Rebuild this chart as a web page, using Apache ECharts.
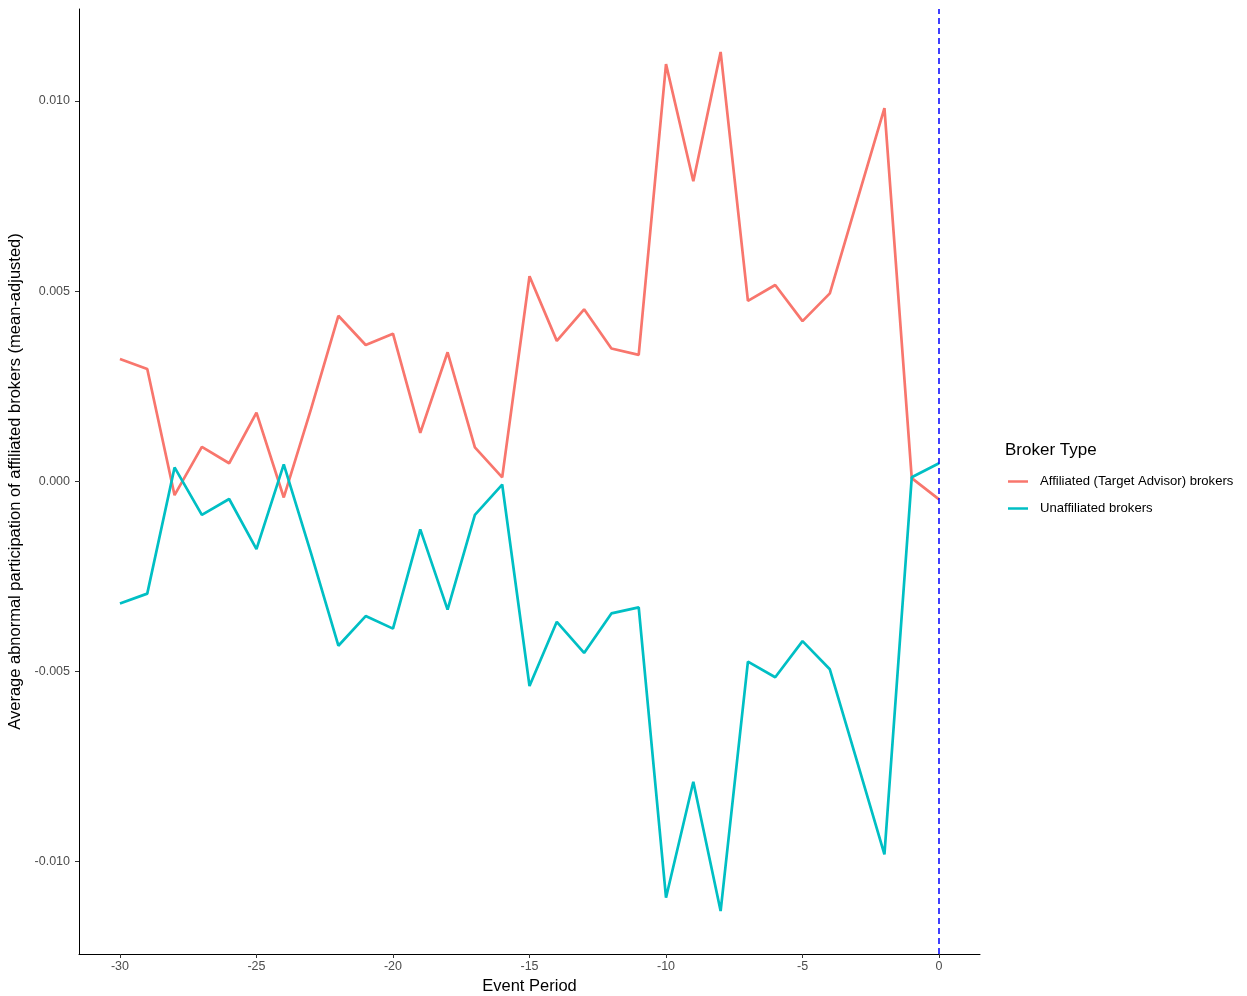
<!DOCTYPE html>
<html>
<head>
<meta charset="utf-8">
<script src="https://cdn.jsdelivr.net/npm/echarts@6/dist/echarts.min.js"></script>
<style>
html,body{margin:0;padding:0;background:#fff;}
#chart{width:1247px;height:996px;}
</style>
</head>
<body>
<div id="chart"></div>
<script>
const periods = [-30,-29,-28,-27,-26,-25,-24,-23,-22,-21,-20,-19,-18,-17,-16,-15,-14,-13,-12,-11,-10,-9,-8,-7,-6,-5,-4,-3,-2,-1,0];
const affiliated = [0.00321,0.00295,-0.00037,0.00090,0.00047,0.00180,-0.00043,0.00190,0.00435,0.00358,0.00388,0.00127,0.00339,0.00089,0.00010,
  0.00539,0.00369,0.00452,0.00349,0.00332,0.01097,0.00789,0.01129,0.00474,0.00516,0.00421,0.00494,0.00738,0.00981,0.00008,-0.00048];
const unaffiliated = [-0.00322,-0.00296,0.00036,-0.00089,-0.00047,-0.00179,0.00044,-0.00190,-0.00433,-0.00355,-0.00388,-0.00127,-0.00338,-0.00089,-0.00009,
  -0.00539,-0.00370,-0.00452,-0.00348,-0.00332,-0.01096,-0.00791,-0.01131,-0.00475,-0.00516,-0.00421,-0.00495,-0.00738,-0.00982,0.00010,0.00047];
const xTicks = [-30,-25,-20,-15,-10,-5,0];
const yTicks = [-0.010,-0.005,0.000,0.005,0.010];
const seriesNames = ['Affiliated (Target Advisor) brokers','Unaffiliated brokers'];
const colors = ['#F8766D','#00BFC4'];

const chart = echarts.init(document.getElementById('chart'), null, {renderer:'canvas'});
const FONT = 'Liberation Sans, Arial, sans-serif';
const tickLabel = {color:'#4d4d4d', fontSize:12.5, fontFamily:FONT};
chart.setOption({
  animation:false,
  backgroundColor:'#fff',
  grid:{left:79, top:9, width:901, height:945, containLabel:false, outerBoundsMode:'none'},
  xAxis:{
    type:'value', min:-31.5, max:1.5,
    name:'Event Period', nameLocation:'middle', nameGap:22,
    nameTextStyle:{color:'#000', fontSize:16.5, fontFamily:FONT},
    axisLine:{show:true, onZero:false, lineStyle:{color:'#000', width:1}},
    axisTick:{show:true, length:4, lineStyle:{color:'#333'}, customValues:xTicks},
    axisLabel:Object.assign({margin:6, customValues:xTicks, formatter:v=>String(v)}, tickLabel),
    splitLine:{show:false}
  },
  yAxis:{
    type:'value', min:-0.01244, max:0.01242,
    name:'Average abnormal participation of affiliated brokers (mean-adjusted)', nameLocation:'middle', nameGap:49,
    nameTextStyle:{color:'#000', fontSize:16.5, fontFamily:FONT},
    axisLine:{show:true, onZero:false, lineStyle:{color:'#000', width:1}},
    axisTick:{show:true, length:4, lineStyle:{color:'#333'}, customValues:yTicks},
    axisLabel:Object.assign({margin:9, customValues:yTicks, formatter:v=>v.toFixed(3)}, tickLabel),
    splitLine:{show:false}
  },
  legend:{
    orient:'vertical', left:1003, top:470, itemWidth:20, itemHeight:2.5, itemGap:14,
    data:seriesNames.map(n=>({name:n, icon:'rect'})),
    textStyle:{color:'#000', fontSize:13.1, fontFamily:FONT, padding:[0,0,0,7]}
  },
  graphic:[{
    type:'text', left:1005, top:442,
    style:{text:'Broker Type', fill:'#000', fontSize:17, fontFamily:FONT}
  }],
  series:[
    {
      name:seriesNames[0], type:'line', symbol:'none', showSymbol:false,
      data:periods.map((p,i)=>[p, affiliated[i]]),
      lineStyle:{color:colors[0], width:2.7}, itemStyle:{color:colors[0]},
      markLine:{
        silent:true, symbol:'none', label:{show:false},
        lineStyle:{color:'#0000ff', type:[6,4], width:1.5},
        data:[{xAxis:0}]
      }
    },
    {
      name:seriesNames[1], type:'line', symbol:'none', showSymbol:false,
      data:periods.map((p,i)=>[p, unaffiliated[i]]),
      lineStyle:{color:colors[1], width:2.7}, itemStyle:{color:colors[1]}
    }
  ]
});
</script>
</body>
</html>
